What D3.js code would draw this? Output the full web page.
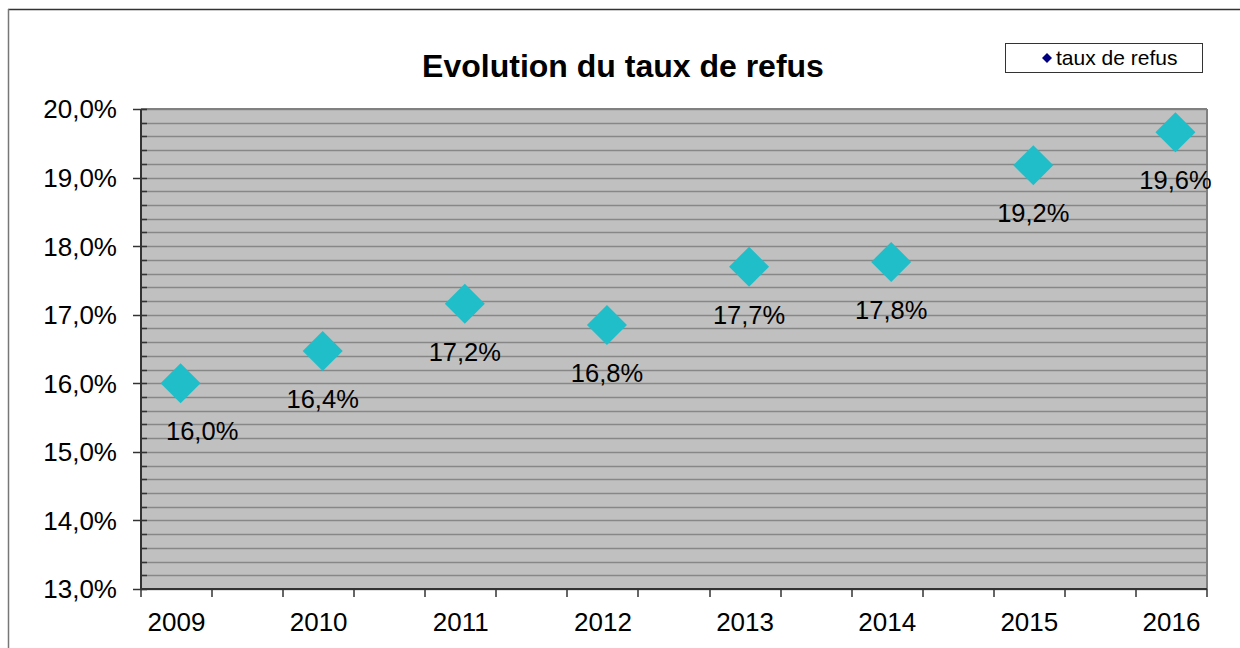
<!DOCTYPE html>
<html>
<head>
<meta charset="utf-8">
<script src="https://cdn.jsdelivr.net/npm/d3@7"></script>
<style>
  body { margin: 0; background: #fff; }
  svg { display: block; font-family: "Liberation Sans", Arial, sans-serif; }
</style>
</head>
<body>
<div id="chart"></div>
<script>
// Data
const years = [2009, 2010, 2011, 2012, 2013, 2014, 2015, 2016];
const rates = [16.0, 16.47, 17.16, 16.85, 17.70, 17.77, 19.18, 19.66];
const rateLabels = ["16,0%", "16,4%", "17,2%", "16,8%", "17,7%", "17,8%", "19,2%", "19,6%"];
const yTicks = [13, 14, 15, 16, 17, 18, 19, 20];
const seriesName = "taux de refus";
const title = "Evolution du taux de refus";

const width = 1240, height = 648;
const plot = { left: 141, right: 1207, top: 109, bottom: 589 };

const svg = d3.select('#chart').append('svg')
    .attr('width', width)
    .attr('height', height);

// outer chart frame
svg.append('line').attr('x1', 8).attr('x2', width).attr('y1', 9.5).attr('y2', 9.5)
    .attr('stroke', '#333').attr('stroke-width', 1.5);
svg.append('line').attr('x1', 8.5).attr('x2', 8.5).attr('y1', 9).attr('y2', height)
    .attr('stroke', '#777').attr('stroke-width', 1.5);

// scales
const x = d3.scaleLinear().domain([2008.75, 2016.25]).range([plot.left, plot.right]);
const y = d3.scaleLinear().domain([13, 20]).range([plot.bottom, plot.top]);

// plot background
svg.append('rect')
    .attr('x', plot.left).attr('y', plot.top)
    .attr('width', plot.right - plot.left).attr('height', plot.bottom - plot.top)
    .attr('fill', '#c0c0c0');

// gridlines every 0.2 point
const minor = d3.range(13, 20.001, 0.2);
svg.append('g').selectAll('line').data(minor).join('line')
    .attr('x1', plot.left).attr('x2', plot.right)
    .attr('y1', d => Math.round(y(d)) + 0.5).attr('y2', d => Math.round(y(d)) + 0.5)
    .attr('stroke', '#878787').attr('stroke-width', 1.6);

// plot border (right and top)
svg.append('line').attr('x1', plot.right).attr('x2', plot.right)
    .attr('y1', plot.top).attr('y2', plot.bottom)
    .attr('stroke', '#808080').attr('stroke-width', 2);
svg.append('line').attr('x1', plot.left).attr('x2', plot.right)
    .attr('y1', plot.top).attr('y2', plot.top)
    .attr('stroke', '#808080').attr('stroke-width', 2);

// y axis
const yAxis = svg.append('g');
yAxis.append('line').attr('x1', plot.left).attr('x2', plot.left)
    .attr('y1', plot.top).attr('y2', plot.bottom)
    .attr('stroke', '#333').attr('stroke-width', 2);
yAxis.selectAll('line.minor').data(minor).join('line')
    .attr('class', 'minor')
    .attr('x1', plot.left).attr('x2', plot.left + 6)
    .attr('y1', d => Math.round(y(d)) + 0.5).attr('y2', d => Math.round(y(d)) + 0.5)
    .attr('stroke', '#333').attr('stroke-width', 1.5);
yAxis.selectAll('line.major').data(yTicks).join('line')
    .attr('class', 'major')
    .attr('x1', plot.left - 8).attr('x2', plot.left)
    .attr('y1', d => Math.round(y(d)) + 0.5).attr('y2', d => Math.round(y(d)) + 0.5)
    .attr('stroke', '#333').attr('stroke-width', 1.5);
yAxis.selectAll('text').data(yTicks).join('text')
    .attr('x', 117).attr('y', d => y(d))
    .attr('dy', '0.36em')
    .attr('text-anchor', 'end')
    .attr('font-size', 26)
    .text(d => d3.format('.1f')(d).replace('.', ',') + '%');

// x axis
const xAxis = svg.append('g');
xAxis.append('line').attr('x1', plot.left).attr('x2', plot.right)
    .attr('y1', plot.bottom).attr('y2', plot.bottom)
    .attr('stroke', '#333').attr('stroke-width', 2);
const xTicks = d3.range(2008.75, 2016.26, 0.5);
xAxis.selectAll('line.tick').data(xTicks).join('line')
    .attr('class', 'tick')
    .attr('x1', d => Math.round(x(d))).attr('x2', d => Math.round(x(d)))
    .attr('y1', plot.bottom).attr('y2', plot.bottom + 8)
    .attr('stroke', '#333').attr('stroke-width', 1.5);
xAxis.selectAll('text').data(years).join('text')
    .attr('x', d => x(d)).attr('y', 631)
    .attr('text-anchor', 'middle')
    .attr('font-size', 26)
    .text(d => d);

// markers
const pts = years.map((yr, i) => ({ yr, v: rates[i], label: rateLabels[i] }));
const diamond = 20;
svg.append('g').selectAll('path').data(pts).join('path')
    .attr('d', `M0,${-diamond}L${diamond},0L0,${diamond}L${-diamond},0Z`)
    .attr('transform', d => `translate(${x(d.yr) + 4},${y(d.v)})`)
    .attr('fill', '#20bec8');

// data labels below each marker, kept clear of the y axis
const labels = svg.append('g').selectAll('text').data(pts).join('text')
    .attr('font-size', 25.5)
    .attr('text-anchor', 'middle')
    .attr('y', d => y(d.v) + 57)
    .text(d => d.label);
labels.each(function (d) {
    const w = this.getComputedTextLength();
    let cx = x(d.yr) + 4;
    if (cx - w / 2 < plot.left + 25) cx = plot.left + 25 + w / 2;
    d3.select(this).attr('x', cx);
});

// title
svg.append('text')
    .attr('x', 623).attr('y', 77)
    .attr('text-anchor', 'middle')
    .attr('font-size', 32)
    .attr('font-weight', 'bold')
    .text(title);

// legend
const legend = svg.append('g');
legend.append('rect')
    .attr('x', 1005.5).attr('y', 43.5).attr('width', 197).attr('height', 29)
    .attr('fill', '#fff').attr('stroke', '#333').attr('stroke-width', 1);
legend.append('path')
    .attr('d', 'M0,-5L5,0L0,5L-5,0Z')
    .attr('transform', 'translate(1047,58)')
    .attr('fill', '#000080');
legend.append('text')
    .attr('x', 1056).attr('y', 65)
    .attr('font-size', 21)
    .text(seriesName);
</script>
</body>
</html>
